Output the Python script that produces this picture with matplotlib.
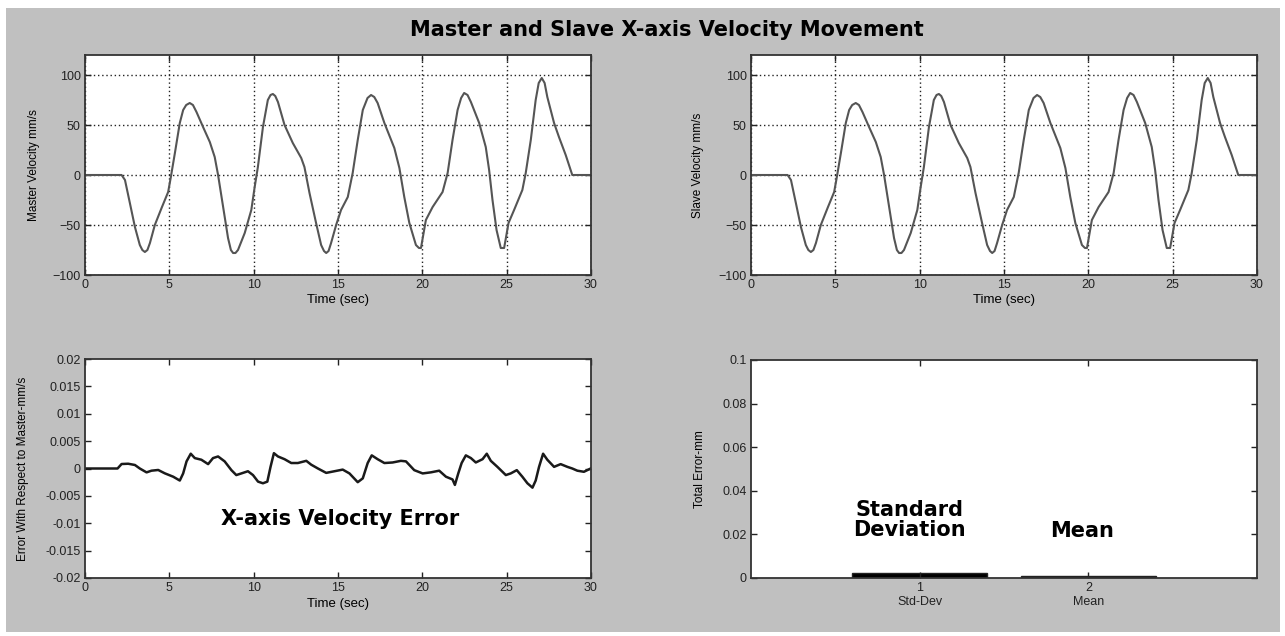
import matplotlib
matplotlib.use('Agg')
import matplotlib.pyplot as plt
from matplotlib.patches import Rectangle

# velocity trace (master and slave overlap at this scale)
time_vel = [0, 2.17, 2.37, 2.66, 2.96, 3.25, 3.4, 3.55, 3.7, 3.85, 4.14, 4.54, 4.93, 5.09, 5.33,
            5.62, 5.82, 6.0, 6.21, 6.4, 6.61, 7.0, 7.40, 7.69, 7.89, 8.19, 8.48, 8.65, 8.78, 8.92,
            9.07, 9.47, 9.86, 10.06, 10.25, 10.55, 10.84, 11.0, 11.14, 11.28, 11.44, 11.83, 12.32,
            12.82, 13.01, 13.31, 13.70, 14.0, 14.17, 14.3, 14.44, 14.59, 14.89, 15.18, 15.58,
            15.87, 16.17, 16.47, 16.75, 16.96, 17.15, 17.35, 17.75, 18.34, 18.64, 18.93, 19.23,
            19.62, 19.8, 19.92, 20.21, 20.61, 21.2, 21.5, 21.79, 22.09, 22.3, 22.48, 22.68, 22.88,
            23.37, 23.76, 23.96, 24.16, 24.40, 24.65, 24.85, 25.11, 25.44, 25.93, 26.13, 26.43,
            26.72, 26.9, 27.08, 27.25, 27.41, 27.81, 28.1, 28.5, 28.89, 30]
master_vel = [0, 0, -5, -28, -52, -70, -75, -77, -75, -68, -50, -33, -17, -2, 22,
              52, 65, 70, 72, 70, 63, 48, 33, 18, 0, -32, -63, -75, -78, -78,
              -75, -58, -35, -12, 8, 48, 75, 80, 81, 79, 73, 50, 32,
              17, 8, -18, -48, -70, -76, -78, -76, -68, -50, -35, -22,
              2, 35, 65, 77, 80, 78, 72, 52, 27, 7, -22, -48,
              -70, -73, -73, -45, -32, -17, 2, 35, 65, 77, 82, 80, 73,
              52, 28, 5, -25, -55, -73, -73, -48, -35, -15, 2, 35,
              75, 92, 97, 92, 78, 52, 38, 20, 0, 0]
slave_vel = list(master_vel)

# velocity error trace
time_err = [0, 1.93, 2.17, 2.56, 2.96, 3.25, 3.65, 3.94, 4.34, 4.73, 5.23, 5.62, 5.82, 6.02, 6.27,
            6.51, 6.90, 7.30, 7.59, 7.89, 8.28, 8.68, 8.97, 9.27, 9.66, 9.96, 10.26, 10.55, 10.81,
            11.0, 11.2, 11.44, 11.83, 12.23, 12.62, 13.12, 13.41, 13.81, 14.3, 14.79, 15.28,
            15.68, 16.17, 16.47, 16.76, 17.0, 17.35, 17.75, 18.24, 18.73, 19.03, 19.52, 20.02,
            20.51, 21.0, 21.4, 21.79, 21.93, 22.13, 22.33, 22.58, 22.88, 23.17, 23.57, 23.82,
            24.06, 24.45, 24.95, 25.24, 25.6, 25.93, 26.23, 26.53, 26.72, 26.92, 27.16, 27.41,
            27.81, 28.2, 28.6, 28.89, 29.19, 29.58, 29.98]
vel_err = [0, 0, 0.00082, 0.00087, 0.00064, 0.0, -0.00071, -0.0004, -0.00027, -0.00088, -0.0015,
           -0.0022, -0.0009, 0.0013, 0.0027, 0.0019, 0.0016, 0.0008, 0.0019, 0.0022, 0.0013,
           -0.0003, -0.0012, -0.0009, -0.0005, -0.0012, -0.0024, -0.0027, -0.0024, 0.0003,
           0.0028, 0.0022, 0.0017, 0.001, 0.001, 0.0014, 0.0007, 0.0, -0.0008, -0.0005, -0.0002,
           -0.0009, -0.0025, -0.0018, 0.001, 0.0024, 0.0017, 0.001, 0.0011, 0.0014, 0.0013,
           -0.0003, -0.0009, -0.0007, -0.0004, -0.0015, -0.002, -0.003, -0.0009, 0.001, 0.0024,
           0.0019, 0.0011, 0.0017, 0.0027, 0.0014, 0.0003, -0.0012, -0.0009, -0.0003, -0.0015,
           -0.0027, -0.0035, -0.0022, 0.0003, 0.0027, 0.0016, 0.0003, 0.0008, 0.0003, 0.0,
           -0.0004, -0.0006, 0.0]

# summary bars
bar_pos = [1, 2]
bar_vals = [0.0024, 0.0008]
bar_names = ['Std-Dev', 'Mean']

vel_yticks = [-100, -50, 0, 50, 100]
err_yticks = [-0.02, -0.015, -0.01, -0.005, 0, 0.005, 0.01, 0.015, 0.02]
err_ylabels = ['-0.02', '-0.015', '-0.01', '-0.005', '0', '0.005', '0.01', '0.015', '0.02']
tot_yticks = [0, 0.02, 0.04, 0.06, 0.08, 0.1]
tot_ylabels = ['0', '0.02', '0.04', '0.06', '0.08', '0.1']
time_ticks = [0, 5, 10, 15, 20, 25, 30]

plt.rcParams['font.family'] = ['Liberation Sans', 'DejaVu Sans']

W, H = 1285, 636
fig = plt.figure(figsize=(W / 100, H / 100), dpi=100, facecolor='white')
fig.patches.append(Rectangle((6 / W, 1 - 632 / H), (1280 - 6) / W, (632 - 8) / H,
                             transform=fig.transFigure, facecolor='#c0c0c0',
                             edgecolor='none', zorder=-10))


def make_ax(x0, y_top, y_bot):
    ax = fig.add_axes([x0 / W, 1 - y_bot / H, 506 / W, (y_bot - y_top) / H])
    ax.set_facecolor('white')
    for s in ax.spines.values():
        s.set_linewidth(1.3)
        s.set_color('#333333')
    ax.tick_params(direction='in', top=True, right=True, length=4, width=1,
                   labelsize=9, pad=3, colors='#222222')
    return ax


def grid_on(ax):
    ax.grid(True, color='#222222', linestyle=(0, (1, 2)), linewidth=1)


# master velocity
ax1 = make_ax(85, 55, 275)
ax1.plot(time_vel, master_vel, color='#555555', lw=1.5, solid_joinstyle='round')
ax1.set_xlim(0, 30)
ax1.set_ylim(-100, 120)
ax1.set_xticks(time_ticks)
ax1.set_yticks(vel_yticks)
grid_on(ax1)
ax1.set_xlabel('Time (sec)', fontsize=9.5)
ax1.xaxis.set_label_coords(0.5, -0.088)
ax1.set_ylabel('Master Velocity mm/s', fontsize=8.5)
ax1.yaxis.set_label_coords(-0.089, 0.5)

# slave velocity
ax2 = make_ax(751, 55, 275)
ax2.plot(time_vel, slave_vel, color='#555555', lw=1.5, solid_joinstyle='round')
ax2.set_xlim(0, 30)
ax2.set_ylim(-100, 120)
ax2.set_xticks(time_ticks)
ax2.set_yticks(vel_yticks)
grid_on(ax2)
ax2.set_xlabel('Time (sec)', fontsize=9.5)
ax2.xaxis.set_label_coords(0.5, -0.088)
ax2.set_ylabel('Slave Velocity mm/s', fontsize=8.5)
ax2.yaxis.set_label_coords(-0.093, 0.5)

# velocity error
ax3 = make_ax(85, 359, 578)
ax3.plot(time_err, vel_err, color='#1a1a1a', lw=1.8, solid_joinstyle='round')
ax3.set_xlim(0, 30)
ax3.set_ylim(-0.02, 0.02)
ax3.set_xticks(time_ticks)
ax3.set_yticks(err_yticks)
ax3.set_yticklabels(err_ylabels)
ax3.set_xlabel('Time (sec)', fontsize=9.5)
ax3.xaxis.set_label_coords(0.5, -0.09)
ax3.set_ylabel('Error With Respect to Master-mm/s', fontsize=8.5)
ax3.yaxis.set_label_coords(-0.111, 0.5)
ax3.text(15.1, -0.0092, 'X-axis Velocity Error', ha='center', va='center',
         fontsize=15, fontweight='bold', family='DejaVu Sans')

# total error bars
ax4 = make_ax(751, 360, 578)
ax4.bar(bar_pos, bar_vals, width=0.8, color='black', edgecolor='#222222', lw=1)
ax4.set_xlim(0, 3)
ax4.set_ylim(0, 0.1)
ax4.set_xticks(bar_pos)
ax4.set_xticklabels([f'{p}\n{n}' for p, n in zip(bar_pos, bar_names)])
ax4.set_yticks(tot_yticks)
ax4.set_yticklabels(tot_ylabels)
ax4.set_ylabel('Total Error-mm', fontsize=8.5)
ax4.yaxis.set_label_coords(-0.089, 0.5)
ax4.text(0.94, 0.0266, 'Standard\nDeviation', ha='center', va='center', fontsize=15,
         fontweight='bold', family='DejaVu Sans', linespacing=1.0)
ax4.text(1.96, 0.0216, 'Mean', ha='center', va='center', fontsize=15,
         fontweight='bold', family='DejaVu Sans')

fig.text(667 / W, 1 - 30 / H, 'Master and Slave X-axis Velocity Movement', ha='center',
         va='center', fontsize=15, fontweight='bold', family='DejaVu Sans')

fig.savefig('out.png', dpi=100, facecolor=fig.get_facecolor())
